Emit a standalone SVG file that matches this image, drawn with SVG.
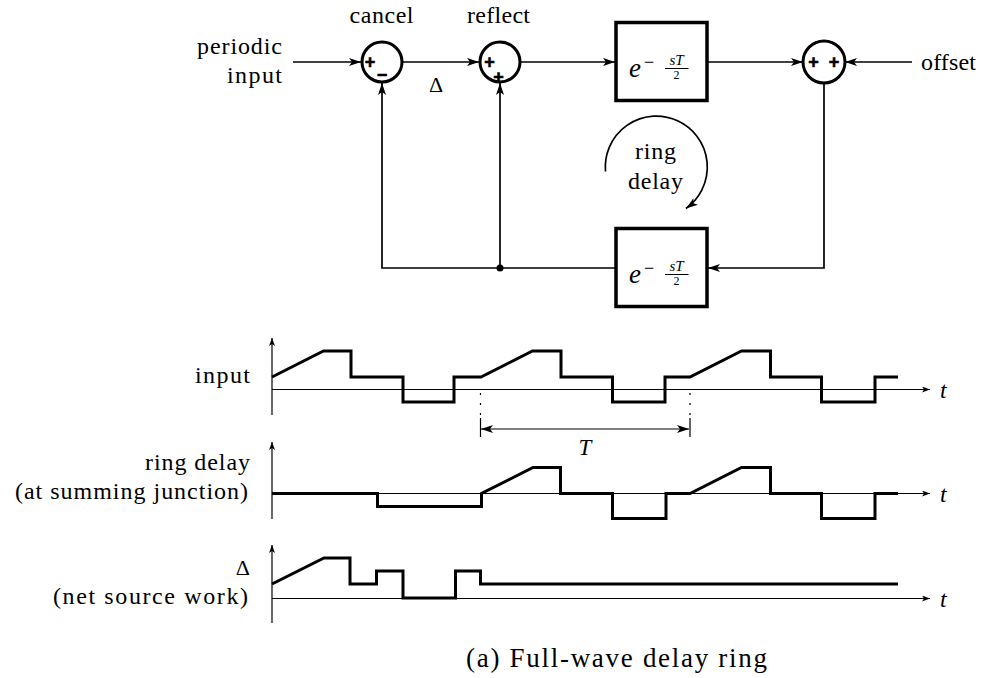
<svg xmlns="http://www.w3.org/2000/svg" width="982" height="678" viewBox="0 0 982 678" font-family="'Liberation Serif', 'DejaVu Serif', serif">
<style>
.lbl{font-size:24px}
.it{font-style:italic}
.sign{font-family:"Liberation Sans","DejaVu Sans",sans-serif;font-size:18px;font-weight:bold;text-anchor:middle;stroke:#000;stroke-width:0.6}
.con{fill:none;stroke:#000;stroke-width:1.7}
.node{fill:#fff;stroke:#000;stroke-width:3}
.box{fill:#fff;stroke:#000;stroke-width:3.5}
.axis{fill:none;stroke:#000;stroke-width:1.2}
.wave{fill:none;stroke:#000;stroke-width:3;stroke-linejoin:miter}
</style>
<defs>
<marker id="arr" viewBox="0 0 12 8" refX="12" refY="4" markerWidth="12" markerHeight="8" orient="auto" markerUnits="userSpaceOnUse"><path d="M0,0 L12,4 L0,8 L3,4 z" fill="#000"/></marker>
<marker id="sarr" viewBox="0 0 8 6" refX="8" refY="3" markerWidth="8" markerHeight="6" orient="auto" markerUnits="userSpaceOnUse"><path d="M0,0 L8,3 L0,6 L2,3 z" fill="#000"/></marker>
</defs>

<!-- labels -->
<text class="lbl" x="282" y="54" text-anchor="end" textLength="85">periodic</text>
<text class="lbl" x="282" y="83" text-anchor="end" textLength="55">input</text>
<text class="lbl" x="381.5" y="23" text-anchor="middle" textLength="64">cancel</text>
<text class="lbl" x="498.5" y="23" text-anchor="middle" textLength="63">reflect</text>
<text x="429" y="92" font-size="22" textLength="22">Δ</text>
<text class="lbl" x="921" y="70" textLength="55">offset</text>
<text class="lbl" x="655.5" y="159" text-anchor="middle" textLength="41">ring</text>
<text class="lbl" x="655.5" y="189" text-anchor="middle" textLength="55">delay</text>

<!-- connectors -->
<g id="connectors">
<path class="con" d="M293,62 L361,62" marker-end="url(#arr)"/>
<path class="con" d="M402,62 L479,62" marker-end="url(#arr)"/>
<path class="con" d="M520,62 L615,62" marker-end="url(#arr)"/>
<path class="con" d="M707,62 L803,62" marker-end="url(#arr)"/>
<path class="con" d="M912,62 L845,62" marker-end="url(#arr)"/>
<path class="con" d="M824,83 L824,268 L708,268" marker-end="url(#arr)"/>
<path class="con" d="M616,268 L382,268 L382,83" marker-end="url(#arr)"/>
<path class="con" d="M500,268 L500,83" marker-end="url(#arr)"/>
<path class="con" d="M605.5,171.5 A51,51 0 1 1 686,208.5" marker-end="url(#arr)"/>
</g>

<!-- nodes -->
<g id="cancel">
<circle class="node" cx="382" cy="62" r="20"/>
<text class="sign" x="370" y="68">+</text>
<text class="sign" x="382" y="81">−</text>
</g>
<g id="reflect">
<circle class="node" cx="500" cy="62" r="20"/>
<text class="sign" x="489.5" y="68">+</text>
<text class="sign" x="498.5" y="83">+</text>
</g>
<g id="sum">
<circle class="node" cx="824" cy="62" r="21"/>
<text class="sign" x="813.5" y="68">+</text>
<text class="sign" x="834" y="68">+</text>
</g>
<g id="delay-top">
<rect class="box" x="616" y="22.5" width="91" height="78"/>
<text x="629" y="77" class="it" font-size="27">e</text>
<text x="644" y="68" font-size="18">−</text>
<text x="676.5" y="64.5" class="it" font-size="15" text-anchor="middle">sT</text>
<line x1="665" y1="68.5" x2="688.5" y2="68.5" stroke="#000" stroke-width="1"/>
<text x="676.5" y="79" font-size="12" text-anchor="middle">2</text>
</g>
<g id="delay-bottom">
<rect class="box" x="616" y="228.5" width="91" height="78"/>
<text x="629" y="283" class="it" font-size="27">e</text>
<text x="644" y="274" font-size="18">−</text>
<text x="676.5" y="270.5" class="it" font-size="15" text-anchor="middle">sT</text>
<line x1="665" y1="274.5" x2="688.5" y2="274.5" stroke="#000" stroke-width="1"/>
<text x="676.5" y="285" font-size="12" text-anchor="middle">2</text>
</g>
<g id="junction"><circle cx="500" cy="268" r="3.5" fill="#000"/></g>

<!-- waveform: input -->
<g id="wave-input">
<text class="lbl" x="250" y="383" text-anchor="end" textLength="55">input</text>
<path class="axis" d="M272,415 L272,338" marker-end="url(#sarr)"/>
<path class="axis" d="M272,389.5 L930,389.5" marker-end="url(#sarr)"/>
<text class="lbl it" x="940" y="398">t</text>
<path class="wave" d="M272,377 L323.5,351 L351,351 L351,377 L403,377 L403,402 L454,402 L454,377 L481,377 L532.5,351 L561,351 L561,377 L612.5,377 L612.5,402 L665,402 L665,377 L690,377 L741.5,351 L770.5,351 L770.5,377 L821.5,377 L821.5,402 L875,402 L875,377 L898,377"/>
<path class="axis" d="M480.5,393 L480.5,417 M690,393 L690,417" stroke-dasharray="2 8"/>
<path class="axis" d="M480.5,418 L480.5,437 M690,418 L690,437"/>
<path class="axis" d="M560,429 L481,429" marker-end="url(#arr)"/>
<path class="axis" d="M610,429 L689,429" marker-end="url(#arr)"/>
<path class="axis" d="M560,429 L610,429"/>
<text x="585" y="455" class="it" font-size="23" text-anchor="middle">T</text>
</g>

<!-- waveform: ring delay -->
<g id="wave-ring">
<text class="lbl" x="250" y="470" text-anchor="end" textLength="105">ring delay</text>
<text class="lbl" x="248" y="499" text-anchor="end" textLength="233">(at summing junction)</text>
<path class="axis" d="M272,519 L272,442" marker-end="url(#sarr)"/>
<path class="axis" d="M272,493.5 L930,493.5" marker-end="url(#sarr)"/>
<text class="lbl it" x="940" y="502">t</text>
<path class="wave" d="M272,493.5 L377.5,493.5 L377.5,506.5 L481.5,506.5 L481.5,493.5 L533,467.5 L560.5,467.5 L560.5,493.5 L612.5,493.5 L612.5,518.5 L666,518.5 L666,493.5 L690,493.5 L741.5,467.5 L770.5,467.5 L770.5,493.5 L821.5,493.5 L821.5,518.5 L875,518.5 L875,493.5 L898,493.5"/>
</g>

<!-- waveform: delta -->
<g id="wave-delta">
<text x="250" y="575" font-size="22" text-anchor="end" textLength="18">Δ</text>
<text class="lbl" x="248" y="604" text-anchor="end" textLength="195">(net source work)</text>
<path class="axis" d="M272,623 L272,545" marker-end="url(#sarr)"/>
<path class="axis" d="M272,598.5 L930,598.5" marker-end="url(#sarr)"/>
<text class="lbl it" x="940" y="607">t</text>
<path class="wave" d="M272,584 L324,558 L350,558 L350,584 L376.5,584 L376.5,571 L403,571 L403,598 L455.5,598 L455.5,571 L480.5,571 L480.5,584 L898,584"/>
</g>

<text x="466" y="667" font-size="27" textLength="301">(a) Full-wave delay ring</text>
</svg>
